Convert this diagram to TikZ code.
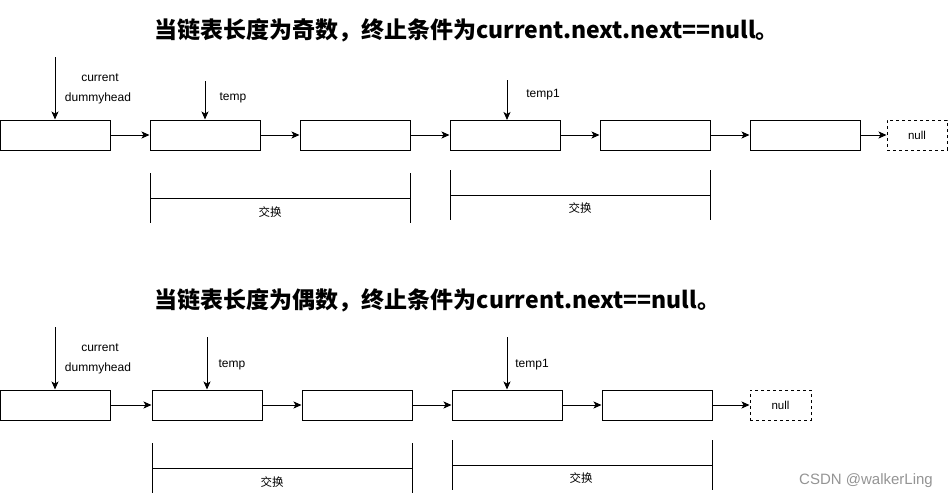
\documentclass[tikz,border=0pt]{standalone}
\usepackage{fontspec}
\setmainfont{Liberation Sans}
\newfontfamily\cjk{Noto Sans CJK SC}
\usetikzlibrary{arrows.meta}
\begin{document}
\begin{tikzpicture}[x=1pt,y=-1pt,
  box/.style={draw,line width=1pt,minimum width=110pt,minimum height=30pt,inner sep=0pt},
  nullbox/.style={draw,dashed,line width=1pt,minimum width=60pt,minimum height=30pt,inner sep=0pt,font=\fontsize{11.5}{13}\selectfont},
  arr/.style={line width=1pt,-{Stealth[length=8pt,width=7pt,inset=2pt]}},
  lbl/.style={font=\fontsize{12}{14}\selectfont,inner sep=0pt},
  title/.style={font=\cjk\bfseries\fontsize{23}{26}\selectfont,inner sep=0pt},
  swap/.style={font=\cjk\fontsize{11.5}{13}\selectfont,inner sep=0pt},
  brk/.style={line width=1pt}]
\useasboundingbox (0,0) rectangle (948,499);
% ---------- top ----------
\node[title] (t1) at (466.5,30) {当链表长度为奇数，终止条件为current.next.next==null。};
\node[box] (a1) at (55,135) {};
\node[box] (a2) at (205,135) {};
\node[box] (a3) at (355,135) {};
\node[box] (a4) at (505,135) {};
\node[box] (a5) at (655,135) {};
\node[box] (a6) at (805,135) {};
\node[nullbox] (an) at (917,135) {null};
\draw[arr] (a1) -- (a2);
\draw[arr] (a2) -- (a3);
\draw[arr] (a3) -- (a4);
\draw[arr] (a4) -- (a5);
\draw[arr] (a5) -- (a6);
\draw[arr] (a6) -- (an);
\coordinate (pc1) at (55,57);
\coordinate (pt1) at (205,81);
\coordinate (pq1) at (507,80);
\coordinate (eq1) at (507,120);
\draw[arr] (pc1) -- (a1.north);
\draw[arr] (pt1) -- (a2.north);
\draw[arr] (pq1) -- (eq1);
\node[lbl] (lc1) at (100,78) {current};
\node[lbl] (ld1) at (98,98) {dummyhead};
\node[lbl] (lt1) at (233,98) {temp};
\node[lbl] (lq1) at (543,95) {temp1};
% brackets top
\draw[brk] (150,173) -- (150,223);
\draw[brk] (410,173) -- (410,223);
\draw[brk] (150,198) -- (410,198);
\node[swap] (s1) at (270,212) {交换};
\draw[brk] (450,170) -- (450,220);
\draw[brk] (710,170) -- (710,220);
\draw[brk] (450,195) -- (710,195);
\node[swap] (s2) at (580,208) {交换};
% ---------- bottom ----------
\node[title] (t2) at (437.5,300) {当链表长度为偶数，终止条件为current.next==null。};
\node[box] (b1) at (55,405) {};
\node[box] (b2) at (207,405) {};
\node[box] (b3) at (357,405) {};
\node[box] (b4) at (507,405) {};
\node[box] (b5) at (657,405) {};
\node[nullbox,minimum width=61pt] (bn) at (780.5,405) {null};
\draw[arr] (b1) -- (b2);
\draw[arr] (b2) -- (b3);
\draw[arr] (b3) -- (b4);
\draw[arr] (b4) -- (b5);
\draw[arr] (b5) -- (bn);
\coordinate (pc2) at (55,327);
\coordinate (pt2) at (207,337);
\coordinate (pq2) at (507,337);
\draw[arr] (pc2) -- (b1.north);
\draw[arr] (pt2) -- (b2.north);
\draw[arr] (pq2) -- (b4.north);
\node[lbl] (lc2) at (100,348) {current};
\node[lbl] (ld2) at (98,368) {dummyhead};
\node[lbl] (lt2) at (232,365) {temp};
\node[lbl] (lq2) at (532,365) {temp1};
% brackets bottom
\draw[brk] (152,443) -- (152,493);
\draw[brk] (412,443) -- (412,493);
\draw[brk] (152,468) -- (412,468);
\node[swap] (s3) at (272,482) {交换};
\draw[brk] (452,440) -- (452,490);
\draw[brk] (712,440) -- (712,490);
\draw[brk] (452,465) -- (712,465);
\node[swap] (s4) at (581,478) {交换};
% watermark
\node[font=\fontsize{15}{17}\selectfont,text=black!42,inner sep=0pt] (wm) at (866,481) {CSDN @walkerLing};
\end{tikzpicture}
\end{document}
